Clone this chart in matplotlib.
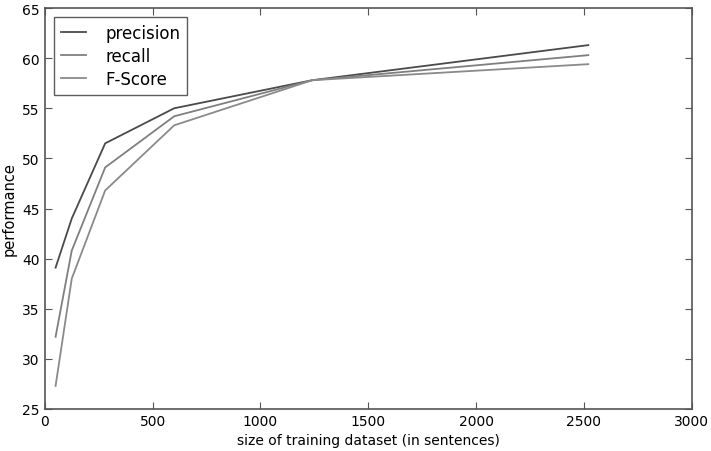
import matplotlib
matplotlib.use("Agg")
import matplotlib.pyplot as plt

# training set sizes (sentences)
sizes = [50, 125, 280, 600, 1240, 2520]

precision = [39.1, 44.0, 51.5, 55.0, 57.8, 61.3]
recall = [32.2, 40.8, 49.1, 54.2, 57.8, 60.3]
fscore = [27.3, 38.0, 46.8, 53.3, 57.8, 59.4]

xticks = [0, 500, 1000, 1500, 2000, 2500, 3000]
yticks = [25, 30, 35, 40, 45, 50, 55, 60, 65]

plt.rcParams['font.family'] = ['DejaVu Sans']

fig = plt.figure(figsize=(7.11, 4.52), dpi=100)
ax = fig.add_axes([0.063, 0.093, 0.91, 0.887])

ax.plot(sizes, precision, color='#4a4a4a', lw=1.3, label='precision')
ax.plot(sizes, recall, color='#7f7f7f', lw=1.3, label='recall')
ax.plot(sizes, fscore, color='#8a8a8a', lw=1.3, label='F-Score')

ax.set_xlim(0, 3000)
ax.set_ylim(25, 65)
ax.set_xticks(xticks)
ax.set_yticks(yticks)
ax.tick_params(direction='in', top=True, right=True, length=5,
               labelsize=10, color='#555555')
for s in ax.spines.values():
    s.set_color('#555555')
    s.set_linewidth(1.2)

ax.set_xlabel('size of training dataset (in sentences)', fontsize=10)
ax.set_ylabel('performance', fontsize=10.5)

leg = ax.legend(loc='upper left', fontsize=12, fancybox=False,
                handlelength=1.5, handletextpad=1.2, borderaxespad=0.55,
                labelspacing=0.3, borderpad=0.4)
leg.get_frame().set_edgecolor('#333333')
leg.get_frame().set_linewidth(1.0)

fig.savefig('out.png', dpi=100, facecolor='white')
